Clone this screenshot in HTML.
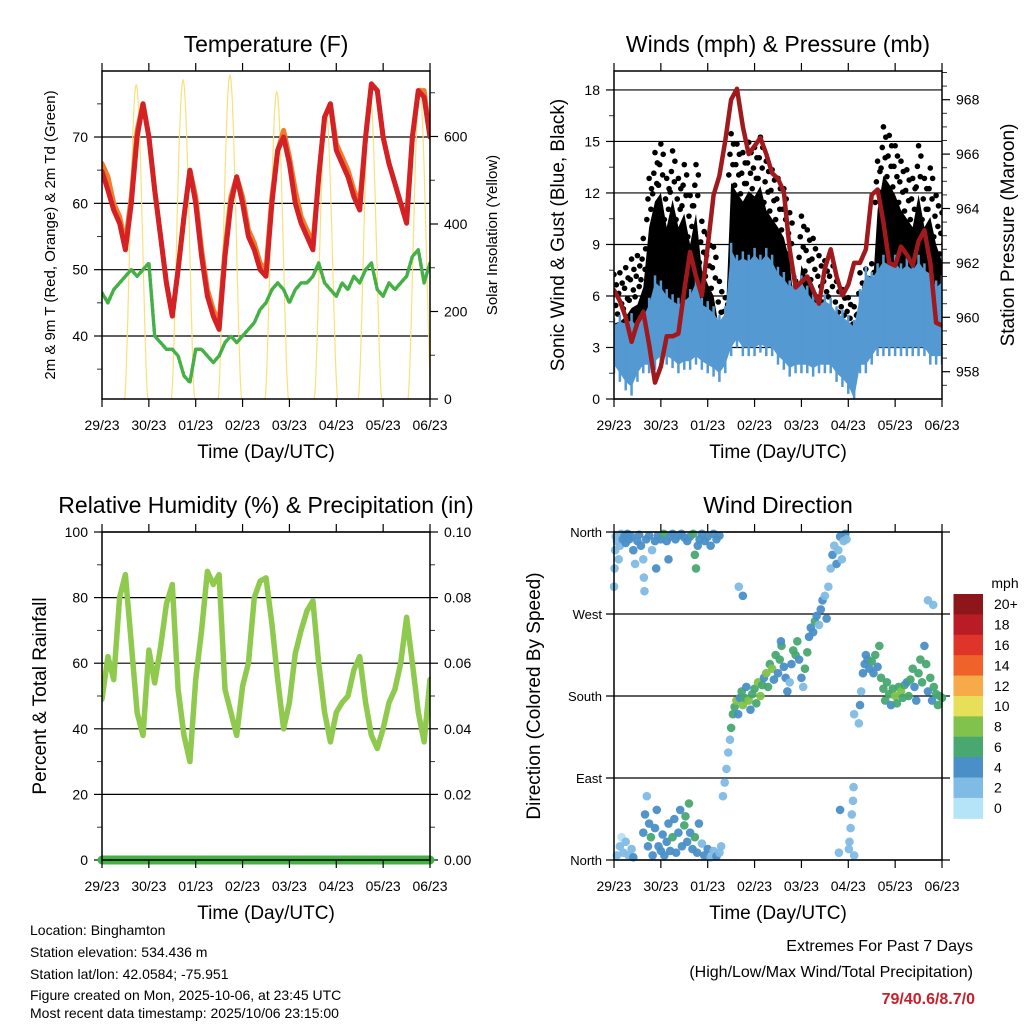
<!DOCTYPE html>
<html>
<head>
<meta charset="utf-8">
<style>
html,body{margin:0;padding:0;background:#fff;}
svg{display:block;font-family:"Liberation Sans",Arial,sans-serif;}
</style>
</head>
<body>
<svg id="chart" width="1024" height="1024" viewBox="0 0 1024 1024">
<rect x="0" y="0" width="1024" height="1024" fill="#fff"/>
<g id="p1"></g>
<g id="p2"></g>
<g id="p3"></g>
<g id="p4"></g>
<g id="info">
<text x="30" y="935" font-size="14">Location: Binghamton</text>
<text x="30" y="957" font-size="14">Station elevation: 534.436 m</text>
<text x="30" y="979" font-size="14">Station lat/lon: 42.0584; -75.951</text>
<text x="30" y="1000" font-size="14">Figure created on Mon, 2025-10-06, at 23:45 UTC</text>
<text x="30" y="1018" font-size="14">Most recent data timestamp: 2025/10/06 23:15:00</text>
<text x="973" y="951" font-size="16" text-anchor="end">Extremes For Past 7 Days</text>
<text x="973" y="977" font-size="16" text-anchor="end">(High/Low/Max Wind/Total Precipitation)</text>
<text x="975" y="1004" font-size="16" font-weight="bold" fill="#c8202a" text-anchor="end">79/40.6/8.7/0</text>
</g>
</svg>
<script>
// ---- data (3-hourly steps, 0..56 over 7 days) ----
const dayLabels = ["29/23","30/23","01/23","02/23","03/23","04/23","05/23","06/23"];
const tempRed = [64.8,62,59,57,53,60,70,75,70,62,55,48,43,50,58,65,60,52,46,43,41,52,60,64,60,55,53,50,49,60,68,70,66,60,57,55,53,64,73,75,68,66,64,61,59,70,78,77,70,66,63,60,57,70,77,76,70];
const tempOrange = [66,64,60,58,54,61,71,75,70,62,55,48,43,50,58,65,61,53,47,44,42,53,61,64,61,56,54,51,50,61,68,71,67,62,58,56,54,64,73,75,69,67,65,62,60,70,78,77,70,66,63,60,58,70,77,77,70];
const dewGreen = [46.5,45,47,48,49,50,49,50,51,40,39,38,38,37,34,33,38,38,37,36,37,39,40,39,40,41,42,44,45,47,48,47,45,47,48,48,49,51,48,47,46,48,47,49,48,50,51,47,46,48,47,48,49,52,53,48,51];
const solarPeak = [718,729,740,702,660,700,712];
const solarPeakTime = [0.73,0.73,0.73,0.73,0.78,0.72,0.78];
const gustHi = [7.4,7.5,7.8,8.3,8.5,9.5,13,14.5,15,13,14.6,13,13.8,12,13.8,10.5,9.7,9,7,6,15.6,15,14.5,15.1,14.8,15.4,14,13.5,13,12.4,11,7,10.8,10,9.5,8.5,8.2,8.5,7,6.5,6,5.5,7.5,7.7,8,14,16,15.5,14.9,14,13.5,13,14.9,13,13.6,12,11];
const gustLo = [2.5,3,3.5,3,3.5,4,4.5,5,5,4.5,4.5,4.5,5,5,5,4.5,4,3.5,3,3,5,6,6,6,6,6,6,5.5,5,4.5,4,3.5,4,4,4,4,3.5,3.5,3,3,3,2,3.5,4,4.5,5,6,6,6,6,5.5,5.5,5.5,5,5,4.5,4.5];
const windHi = [4.3,4.5,4.4,4.6,4.2,4.8,5.5,6.8,6.5,6,5.7,5.5,5.7,6,6.8,5.5,5.3,5,4.5,5,8.7,8,8.2,8,8.4,8,8.4,8,7.3,7,6.5,6.8,6.8,6.2,5.7,5.5,5.7,5.5,5,4.8,4.5,4.2,6,7.3,7,7.5,8,7.8,8,7.5,7.8,7.5,8,7.5,7.3,6.5,6.8];
const windLo = [2,1.5,1,0.7,1.5,2,2,2.2,2.5,2.5,2.3,2,2.2,2.2,2.5,2.2,2,1.8,1.5,2,3,3.5,3,3,3,3.2,3,3,2.5,2.2,1.8,2,2,2,1.8,2,2,2,1.5,1.2,0.8,0,2,2,2.5,3,3,3,3,3,3,3,3,3,2.5,2.5,2.5];
const pressure = [961.0,960.6,960.0,959.1,959.8,960.2,959.0,957.6,958.2,959.3,959.3,959.4,961.0,962.4,961.5,960.8,962.6,964.5,965.2,966.5,968.0,968.4,967.0,966.0,966.3,966.6,966.0,965.3,965.1,964.6,962.5,961.1,961.3,961.5,961.0,960.5,961.8,962.5,961.5,960.8,961.2,962.0,962.0,962.5,964.5,964.7,963.5,962.0,961.9,962.6,962.3,961.9,962.8,963.2,962.0,959.8,959.7];
const rh = [49,62,55,80,87,66,45,38,64,54,65,78,84,52,38,30,55,70,88,84,87,52,45,38,53,60,80,85,86,72,55,40,48,63,70,76,79,60,45,36,45,48,50,58,62,48,38,34,40,48,52,60,74,60,45,36,55];
const precip = [0,0,0,0,0,0,0,0];
const dirStep = [0,0.1,0.2,0.3,0.5,0.8,1,1.2,1.5,1.8,2,2.3,2.6,3,3.3,3.6,4,4.3,4.6,5,5.1,5.2,5.5,6,6.5,7,7.2,7.5,8,8.5,9,9.3,9.6,10,10.5,11,11.5,12,12.5,13,13.5,13.8,14,14.3,14.6,15,15.5,16,16.5,17,17.5,18,
0.5,1,1.3,1.6,2,2.5,3,3.3,5,5.3,5.6,5.8,6,6.3,6.6,7,7.3,7.6,8,8.3,8.6,9,9.3,9.6,10,10.3,10.6,11,11.3,11.6,12,12.2,12.5,12.8,13,13.4,13.8,14.2,14.5,15,15.4,16,16.5,17,17.5,18,18.3,
18.6,18.9,19.2,19.5,19.8,20,20.3,20.6,20.9,21.2,21.5,21.8,22,22.3,22.6,23,23.3,23.6,24,24.3,24.6,25,25.3,25.6,26,26.3,26.6,27,27.3,27.6,28,28.3,28.6,29,29.3,29.6,30,30.3,30.6,31,31.3,31.6,32,32.3,32.6,33,33.3,33.6,34,34.3,34.6,35,35.3,35.6,36,36.3,36.6,37,37.3,37.6,38,38.3,38.6,38.9,39.2,39.5,39.7,
38.4,40.1,40.2,40.4,40.6,40.8,40.9,41,38.6,41,
41.8,42,42.2,42.5,42.8,43,43.3,43.6,44,44.3,44.6,45,45.3,45.6,46,46.3,46.6,47,47.3,47.6,48,48.3,48.6,49,49.3,49.6,50,50.3,50.6,51,51.3,51.6,52,52.3,52.6,53,53.3,53.6,54,54.3,54.6,55,55.3,55.6,56,54.5,53.6,22,28.5,21.3];
const dirDeg = [300,320,340,355,350,330,345,358,352,356,348,358,352,355,340,325,350,357,345,330,310,295,352,356,340,350,320,356,352,358,350,330,355,358,352,356,358,354,350,355,358,335,320,345,352,358,350,355,345,358,352,356,
5,15,25,8,20,5,12,3,30,50,70,15,40,25,5,35,55,15,10,28,5,20,40,10,25,45,8,30,55,15,38,48,20,62,30,12,25,8,40,18,5,12,3,10,4,8,15,
70,85,100,118,132,145,160,168,175,160,178,185,170,178,190,175,165,182,188,172,195,180,192,200,205,190,215,210,198,225,205,220,235,212,200,185,195,215,230,225,240,220,200,190,210,228,245,255,250,262,268,258,275,285,290,265,300,320,335,345,325,340,355,330,350,358,352,
8,12,20,35,50,65,80,5,55,160,
150,170,185,205,215,225,220,210,218,205,225,212,235,200,188,175,195,182,170,188,180,172,190,185,178,192,195,180,198,210,190,175,205,220,195,235,215,185,200,175,190,182,170,180,178,280,285,290,240,300];
const dirSpd = [3,2,3,3,2,3,2,3,4,4,4,4,4,4,4,3,4,4,4,3,3,3,4,4,3,4,4,4,4,7,4,4,4,5,4,4,4,4,4,4,7,6,6,4,4,4,4,4,4,4,4,4,
2,3,1,3,3,2,3,4,4,4,3,4,4,6,4,4,4,4,4,5,4,4,4,4,6,5,4,4,4,4,6,6,5,6,4,4,6,4,4,3,4,4,3,3,4,3,2,
3,3,3,3,3,6,7,6,8,4,5,6,8,7,4,8,4,7,6,7,8,8,6,4,8,7,6,8,4,7,4,6,7,4,4,4,3,4,6,7,7,4,4,3,6,7,4,4,4,6,4,3,4,4,3,4,3,3,4,3,4,3,4,3,3,4,3,
2,3,3,3,2,3,3,2,4,3,
3,4,3,4,4,4,4,4,6,4,6,4,6,6,6,6,7,6,4,6,8,7,6,8,6,6,4,6,6,7,4,4,6,6,6,4,6,4,6,4,6,6,6,6,6,3,3,4,4,3];
const speedBins = ["0","2","4","6","8","10","12","14","16","18","20+"];
const speedColors = ["#b5e3f8","#7fbbe4","#4a8fc7","#48a870","#80c24b","#e7df5a","#f6ab48","#ef6229","#de3429","#b91c24","#8e1519"];

// ---- helpers ----
const NS = "http://www.w3.org/2000/svg";
function mk(tag, attrs, parent){
  const e = document.createElementNS(NS, tag);
  for (const k in attrs) e.setAttribute(k, attrs[k]);
  parent.appendChild(e);
  return e;
}
function txt(parent, x, y, s, size, anchor, extra){
  const t = mk("text", Object.assign({x:x, y:y, "font-size":size, "text-anchor":anchor||"middle", fill:"#000"}, extra||{}), parent);
  t.textContent = s;
  return t;
}
const NSTEP = 56;
function panel(L, T, R, B){
  return {L:L,T:T,R:R,B:B, x:(s)=>L + s*(R-L)/NSTEP};
}
function frame(g, P, title, titleName, xTitle){
  const r = mk("rect", {x:P.L, y:P.T, width:P.R-P.L, height:P.B-P.T, fill:"none", stroke:"#000", "stroke-width":1.5}, g);
  
  
  const t = txt(g, (P.L+P.R)/2, P.T-19, title, 23);
  
  
  for (let i=0;i<dayLabels.length;i++){
    const x = P.L + i*(P.R-P.L)/7;
    mk("line",{x1:x,y1:P.B,x2:x,y2:P.B+8,stroke:"#000","stroke-width":1.2},g);
    mk("line",{x1:x,y1:P.T,x2:x,y2:P.T-8,stroke:"#000","stroke-width":1.2},g);
    const l = txt(g, x, P.B+31, dayLabels[i], 14);
    
    
  }
  const xt = txt(g, (P.L+P.R)/2, P.B+59, xTitle, 19);
  
  
}
function yTicks(g, P, side, vals, yf, fmt, grid, minors){
  const dir = side==="left" ? -1 : 1;
  const x0 = side==="left" ? P.L : P.R;
  (minors||[]).forEach(v=>{
    const y = yf(v);
    mk("line",{x1:x0,y1:y,x2:x0+dir*5,y2:y,stroke:"#333","stroke-width":1},g);
  });
  vals.forEach(v=>{
    const y = yf(v);
    mk("line",{x1:x0,y1:y,x2:x0+dir*8,y2:y,stroke:"#000","stroke-width":1.2},g);
    if (grid) mk("line",{x1:P.L,y1:y,x2:P.R,y2:y,stroke:"#000","stroke-width":1.2},g);
    const l = txt(g, x0+dir*14, y+5, fmt(v), 14, side==="left"?"end":"start");
    
    
  });
}
function yTitle(g, x, y, s, size, name){
  const t = txt(g, 0, 0, s, size, "middle", {transform:"translate("+x+","+y+") rotate(-90)"});
  
  
}
function polyline(g, P, arr, yf, color, w, extra){
  const pts = arr.map((v,i)=>P.x(i).toFixed(1)+","+yf(v).toFixed(1)).join(" ");
  return mk("polyline", Object.assign({points:pts, fill:"none", stroke:color, "stroke-width":w, "stroke-linejoin":"round","stroke-linecap":"round"}, extra||{}), g);
}
function band(P, lo, hi, yf){
  const top = hi.map((v,i)=>P.x(i).toFixed(1)+","+yf(v).toFixed(1));
  const bot = lo.map((v,i)=>P.x(i).toFixed(1)+","+yf(v).toFixed(1)).reverse();
  return top.concat(bot).join(" ");
}

// ---- Panel 1: Temperature ----
(function(){
  const g = document.getElementById("p1");
  const P = panel(102,71,430,399);
  const yT = v => 336 - (v-40)*6.633;
  const yS = v => 399 - v*0.4375;
  const cp = mk("clipPath",{id:"c1"},g);
  mk("rect",{x:P.L,y:P.T,width:P.R-P.L,height:P.B-P.T},cp);
  yTicks(g,P,"left",[40,50,60,70],yT,v=>String(v),true,[35,45,55,65,75]);
  yTicks(g,P,"right",[0,200,400,600],yS,v=>String(v),false,[100,300,500,700]);
  const data = mk("g",{"clip-path":"url(#c1)"},g);
  const dayW = (P.R-P.L)/7;
  solarPeak.forEach((pk,d)=>{
    const pts=[];
    for(let k=-25;k<=25;k++){
      const dt = k/100;
      const v = pk*Math.pow(Math.cos(Math.PI/2*dt/0.25),1.6);
      pts.push((P.L+(d+solarPeakTime[d]+dt)*dayW).toFixed(1)+","+yS(v).toFixed(1));
    }
    const s = mk("polyline",{points:pts.join(" "),fill:"none",stroke:"#f8e07a","stroke-width":1.2},data);
    
    
  });
  const d = polyline(data,P,dewGreen,yT,"#45b045",3.5,{"stroke-dasharray":"3 2"});
  
  
  const o = polyline(data,P,tempOrange,yT,"#f07d2c",5);
  
  
  const r = polyline(data,P,tempRed,yT,"#d42125",5);
  
  
  frame(g,P,"Temperature (F)","temperature-title","Time (Day/UTC)");
  yTitle(g,55,235,"2m & 9m T (Red, Orange) & 2m Td (Green)",15,"temperature-y-title");
  yTitle(g,497,235,"Solar Insolation (Yellow)",15,"solar-y-title");
})();

// ---- Panel 2: Winds & pressure ----
(function(){
  const g = document.getElementById("p2");
  const P = panel(614,71,942,399);
  const yW = v => 399 - v*17.17;
  const yP = p => 371.7 - (p-958)*27.2;
  const cp = mk("clipPath",{id:"c2"},g);
  mk("rect",{x:P.L,y:P.T,width:P.R-P.L,height:P.B-P.T},cp);
  yTicks(g,P,"left",[0,3,6,9,12,15,18],yW,v=>String(v),true,[1.5,4.5,7.5,10.5,13.5,16.5]);
  const pm=[]; for(let p=957.5;p<=969;p+=0.5){ if(p%2!==0) pm.push(p); }
  yTicks(g,P,"right",[958,960,962,964,966,968],yP,v=>String(v),false,pm);
  const data = mk("g",{"clip-path":"url(#c2)"},g);
  const sw = (P.R-P.L)/NSTEP;
  // dense gust core
  const core = gustHi.map((v,i)=>Math.max(gustLo[i]+1, v-3));
  const gb = mk("polygon",{points:band(P,gustLo,core,yW),fill:"#000"},data);
  
  
  // scattered gust points above core
  const fr = [0.15,0.35,0.55,0.75,0.95];
  const off = [-0.4,0.3,-0.2,0.4,0];
  gustHi.forEach((hi,i)=>{
    fr.forEach((f,k)=>{
      const v = core[i] + (hi-core[i])*f;
      const c = mk("circle",{cx:P.x(i)+off[k]*sw,cy:yW(v),r:2.8,fill:"#000"},data);
      
      
    });
  });
  const wb = mk("polygon",{points:band(P,windLo,windHi,yW),fill:"#5599d2"},data);
  
  
  windHi.forEach((hi,i)=>{
    const b = mk("line",{x1:P.x(i),y1:yW(hi+0.4),x2:P.x(i),y2:yW(windLo[i]-0.5),stroke:"#5599d2","stroke-width":2.5},data);
    
    
  });
  const pl = polyline(data,P,pressure,yP,"#a0191d",4.5);
  
  
  frame(g,P,"Winds (mph) & Pressure (mb)","winds-title","Time (Day/UTC)");
  yTitle(g,564,235,"Sonic Wind & Gust (Blue, Black)",19,"wind-y-title");
  yTitle(g,1014,235,"Station Pressure (Maroon)",19,"pressure-y-title");
})();

// ---- Panel 3: RH & precip ----
(function(){
  const g = document.getElementById("p3");
  const P = panel(102,532,430,860);
  const yR = v => 860 - v*3.28;
  const yPr = v => 860 - v*3280;
  const cp = mk("clipPath",{id:"c3"},g);
  mk("rect",{x:P.L,y:P.T,width:P.R-P.L,height:P.B-P.T},cp);
  yTicks(g,P,"left",[0,20,40,60,80,100],yR,v=>String(v),true,[10,30,50,70,90]);
  yTicks(g,P,"right",[0,0.02,0.04,0.06,0.08,0.10],yPr,v=>v.toFixed(2),false,[0.01,0.03,0.05,0.07,0.09]);
  const data = mk("g",{"clip-path":"url(#c3)"},g);
  const l = polyline(data,P,rh,yR,"#8fca4f",5.5);
  
  
  const pts = precip.map((v,i)=>(P.L+i*(P.R-P.L)/7).toFixed(1)+","+yPr(v).toFixed(1)).join(" ");
  const pr = mk("polyline",{points:pts,fill:"none",stroke:"#45b045","stroke-width":9,"stroke-linecap":"round"},g);
  
  
  frame(g,P,"Relative Humidity (%) & Precipitation (in)","humidity-title","Time (Day/UTC)");
  yTitle(g,46,696,"Percent & Total Rainfall",19,"humidity-y-title");
})();

// ---- Panel 4: Wind direction ----
(function(){
  const g = document.getElementById("p4");
  const P = panel(614,532,942,860);
  const yD = v => 860 - v*328/360;
  const cp = mk("clipPath",{id:"c4"},g);
  mk("rect",{x:P.L-4,y:P.T-4,width:P.R-P.L+8,height:P.B-P.T+8},cp);
  const names = ["North","East","South","West","North"];
  [0,90,180,270,360].forEach((v,i)=>{
    const y=yD(v);
    mk("line",{x1:P.L-8,y1:y,x2:P.R+8,y2:y,stroke:"#000","stroke-width":1.2},g);
    const l = txt(g,P.L-12,y+5,names[i],13,"end");
    
    
  });
  const data = mk("g",{"clip-path":"url(#c4)"},g);
  dirStep.forEach((s,i)=>{
    const bin = Math.min(10, Math.floor(dirSpd[i]/2));
    const c = mk("circle",{cx:P.x(s),cy:yD(dirDeg[i]),r:4.3,fill:speedColors[bin],"fill-opacity":0.95},data);
    
    
  });
  frame(g,P,"Wind Direction","wind-direction-title","Time (Day/UTC)");
  yTitle(g,540,696,"Direction (Colored By Speed)",19,"direction-y-title");
  const cbTop=594, cbH=224.3, bh=cbH/speedBins.length;
  const mph = txt(g,1005,588,"mph",14);
  
  
  for(let k=0;k<speedBins.length;k++){
    const idx = speedBins.length-1-k;
    const y = cbTop + k*bh;
    const r = mk("rect",{x:953.5,y:y,width:29.5,height:bh+0.5,fill:speedColors[idx]},g);
    
    
    const l = txt(g,994,y+bh/2+5,speedBins[idx],14,"start");
    
    
  }
})();
</script>
</body>
</html>
